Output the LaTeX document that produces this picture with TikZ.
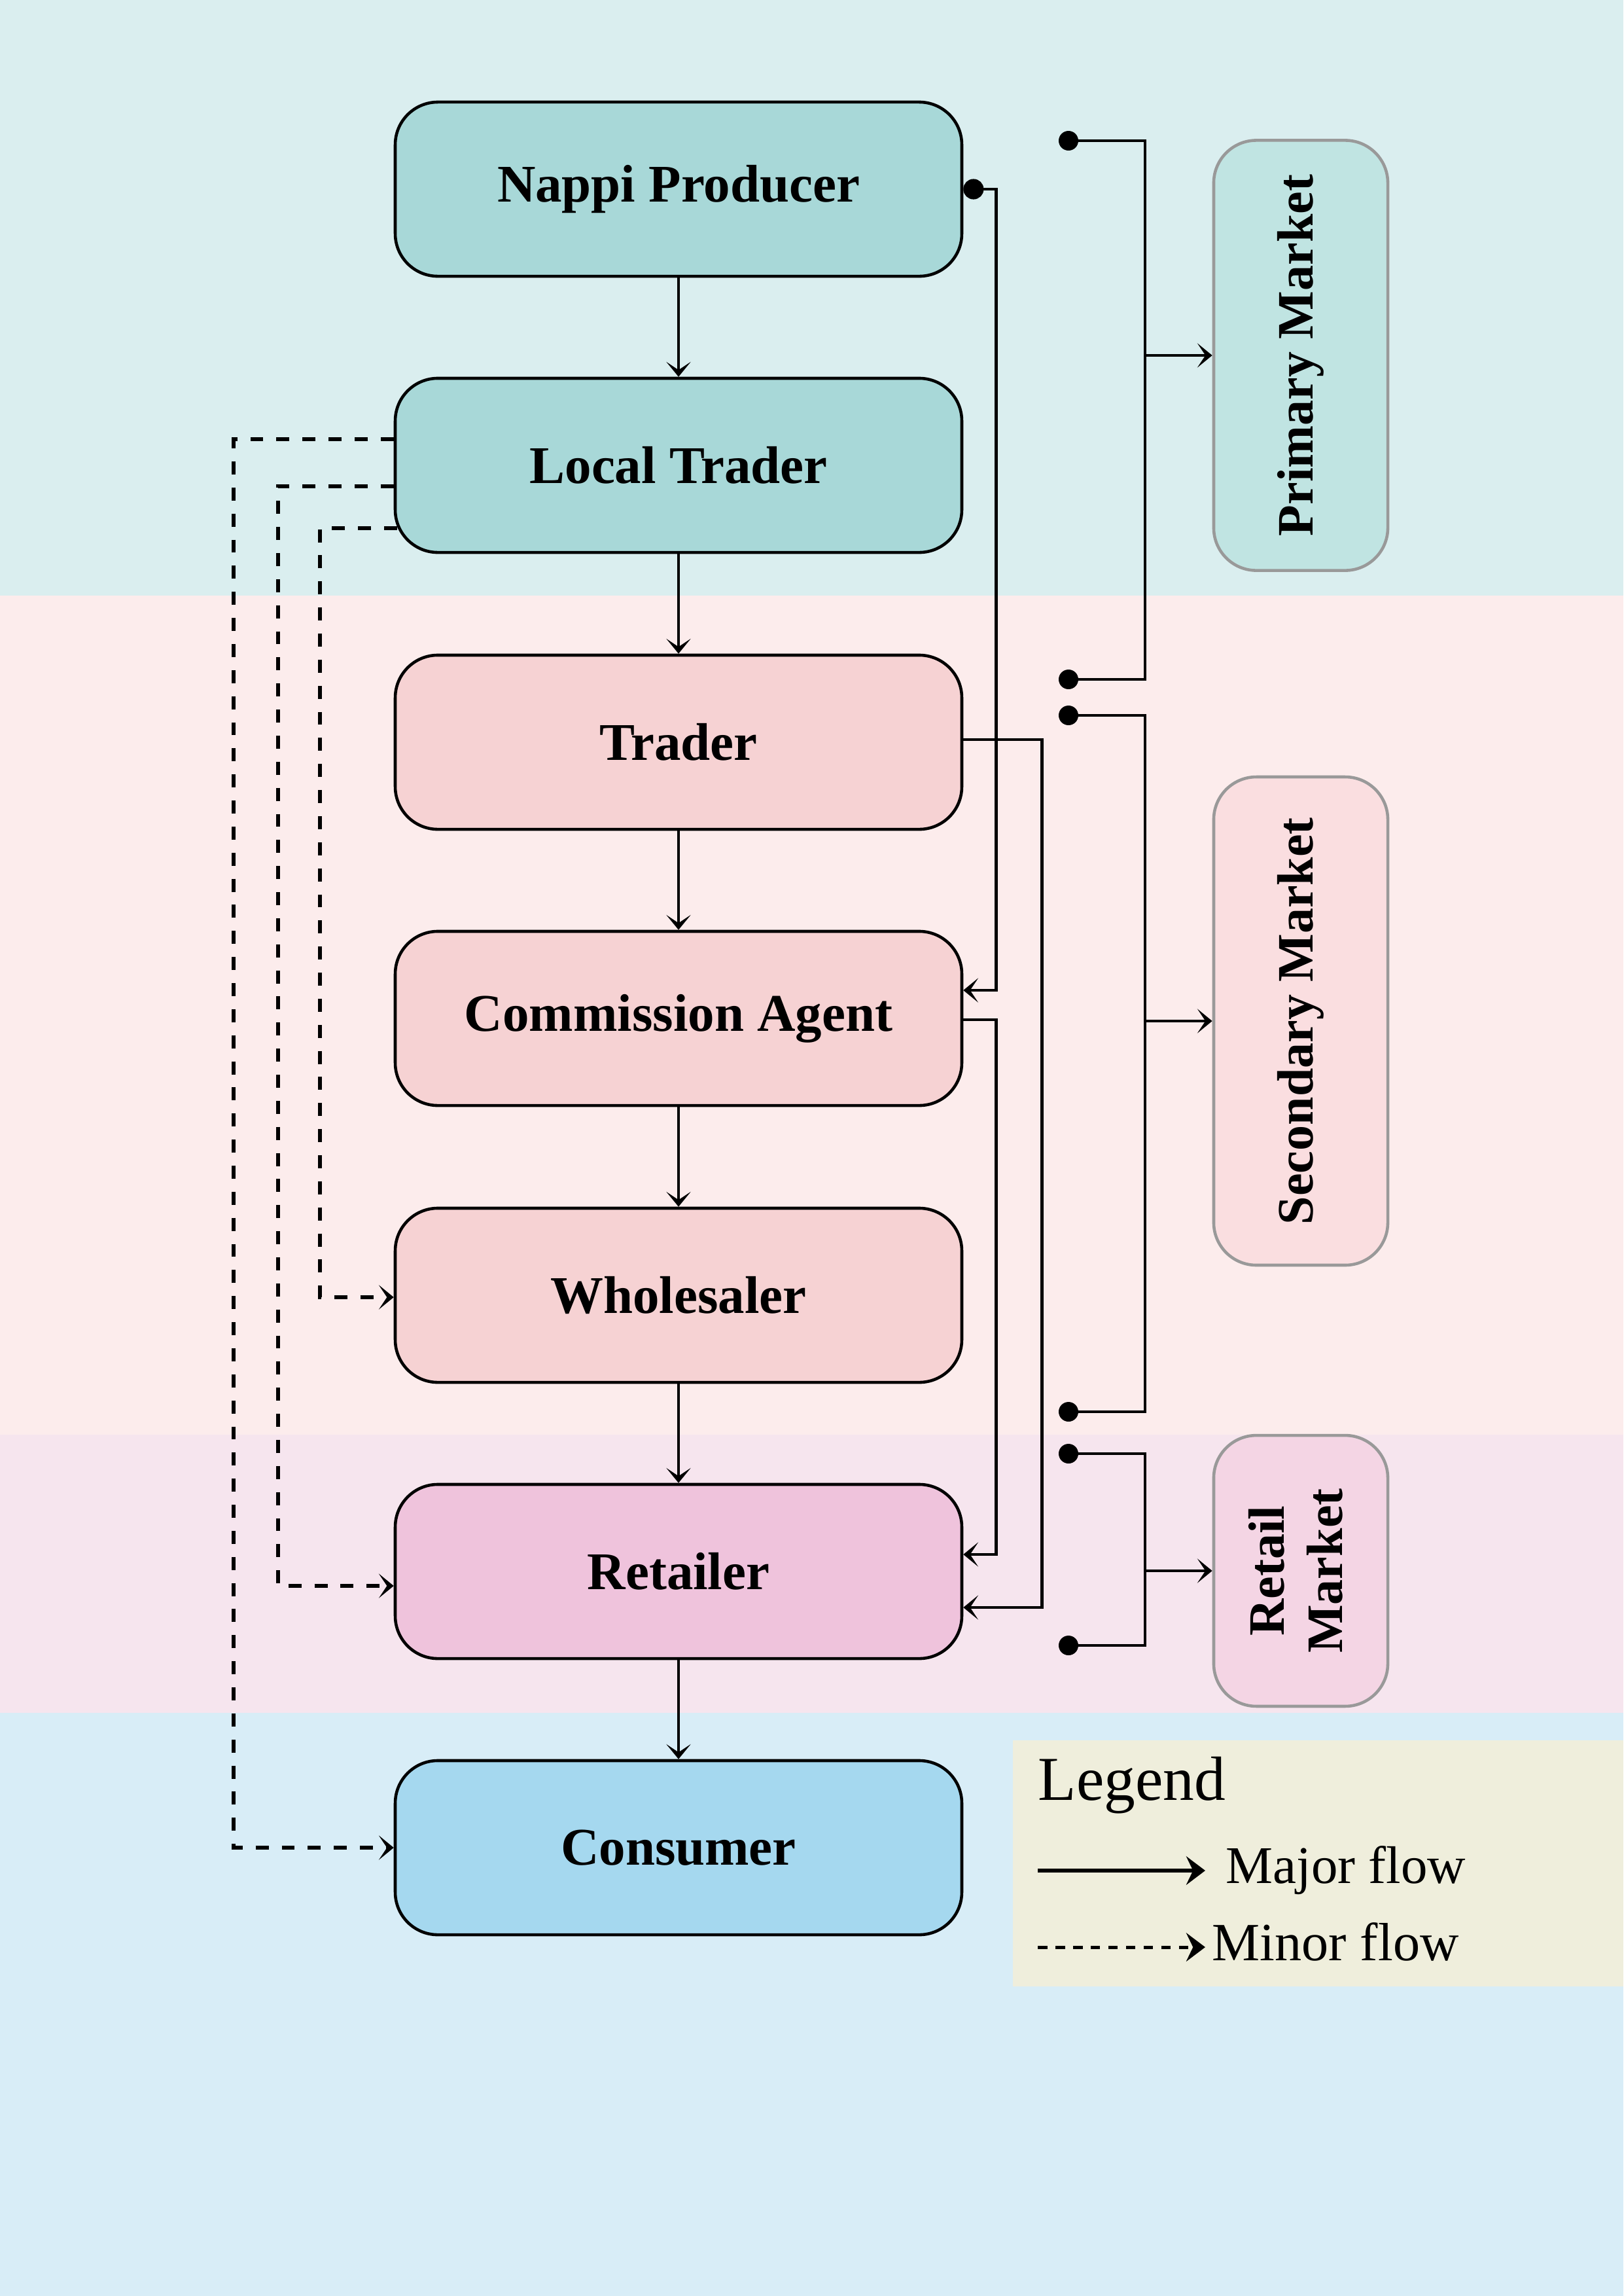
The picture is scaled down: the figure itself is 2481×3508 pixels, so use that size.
\documentclass[tikz,border=0pt]{standalone}
\usepackage{fontspec}
\usepackage{graphicx}
\setmainfont{Liberation Serif}
\usetikzlibrary{arrows.meta,calc}
\definecolor{bandA}{RGB}{218,238,239}
\definecolor{bandB}{RGB}{252,236,236}
\definecolor{bandC}{RGB}{246,229,238}
\definecolor{bandD}{RGB}{216,237,247}
\definecolor{fillTeal}{RGB}{168,216,216}
\definecolor{fillPink}{RGB}{246,210,211}
\definecolor{fillMag}{RGB}{239,195,220}
\definecolor{fillBlue}{RGB}{165,216,239}
\definecolor{mkPrim}{RGB}{192,228,226}
\definecolor{mkSec}{RGB}{250,222,224}
\definecolor{mkRet}{RGB}{244,213,228}
\definecolor{legbg}{RGB}{239,238,220}
\definecolor{mkborder}{RGB}{153,153,153}
\begin{document}
\begin{tikzpicture}[x=0.24089pt,y=-0.24089pt,
  stagebox/.style={draw=black, line width=1.1pt, rounded corners=15.7pt,
    minimum width=208.6pt, minimum height=64.1pt, inner sep=0pt,
    font=\fontsize{19.5}{23}\selectfont\bfseries},
  marketbox/.style={draw=mkborder, line width=1.1pt, rounded corners=15.7pt,
    minimum width=64.1pt, inner sep=0pt,
    font=\fontsize{18.8}{22.5}\selectfont\bfseries},
  major/.style={line width=1.1pt, -{Stealth[length=5.5pt,width=9pt,inset=3pt]}},
  minor/.style={line width=1.5pt, dash pattern=on 4.8pt off 4.8pt, -{Stealth[length=5.5pt,width=9pt,inset=3pt]}},
  legtip/.style={-{Stealth[length=7pt,width=10.5pt,inset=2.5pt]}},
  bracket/.style={line width=1.1pt},
  dotstyle/.style={fill=black}
]
% background bands
\fill[bandA] (0,0) rectangle (2481,910);
\fill[bandB] (0,910) rectangle (2481,2192);
\fill[bandC] (0,2192) rectangle (2481,2617);
\fill[bandD] (0,2617) rectangle (2481,3508);
\useasboundingbox (0,0) rectangle (2481,3508);

% stage nodes
\node[stagebox, fill=fillTeal] (nappi) at (1037,289) {Nappi Producer};
\node[stagebox, fill=fillTeal] (local) at (1037,711) {Local Trader};
\node[stagebox, fill=fillPink] (trader) at (1037,1134) {Trader};
\node[stagebox, fill=fillPink] (comm) at (1037,1556) {Commission Agent};
\node[stagebox, fill=fillPink] (whole) at (1037,1979) {Wholesaler};
\node[stagebox, fill=fillMag] (retail) at (1037,2401) {Retailer};
\node[stagebox, fill=fillBlue] (consumer) at (1037,2823) {Consumer};

% market nodes
\node[marketbox, fill=mkPrim, minimum height=158.3pt] (primary) at (1988,543) {\rotatebox{90}{Primary Market}};
\node[marketbox, fill=mkSec, minimum height=179.7pt] (secondary) at (1988,1560) {\rotatebox{90}{Secondary Market}};
\node[marketbox, fill=mkRet, minimum height=99.7pt] (retmarket) at (1988,2400) {\rotatebox{90}{\begin{tabular}{@{}c@{}}Retail\\[-1pt]Market\end{tabular}}};

% main vertical flow
\draw[major] (nappi) -- (local);
\draw[major] (local) -- (trader);
\draw[major] (trader) -- (comm);
\draw[major] (comm) -- (whole);
\draw[major] (whole) -- (retail);
\draw[major] (retail) -- (consumer);

% right-side bypass flows
\draw[line width=1.1pt, {Circle[length=7.5pt]}-{Stealth[length=5.5pt,width=9pt,inset=3pt]}]
  (nappi.east) -- ++(50,0) |- ($(comm.east)+(0,-43)$);
\draw[major] ($(comm.east)+(0,2)$) -- ++(50,0) |- ($(retail.east)+(0,-26)$);
\draw[major] ($(trader.east)+(0,-4)$) -- ++(120,0) |- ($(retail.east)+(0,55)$);

% left-side minor flows
\draw[minor] ($(local.west)+(0,-40)$) -- ++(-245,0) |- (consumer.west);
\draw[minor] ($(local.west)+(0,32)$) -- ++(-177,0) |- ($(retail.west)+(0,22)$);
\draw[minor] ($(local.west)+(5,96)$) -- ++(-118,0) |- ($(whole.west)+(0,3)$);

% brackets
\coordinate (b1) at (1633,215);
\coordinate (b2) at (1633,1038);
\coordinate (b3) at (1633,1093);
\coordinate (b4) at (1633,2157);
\coordinate (b5) at (1633,2221);
\coordinate (b6) at (1633,2514);
\coordinate (vx) at (1750,0);
\draw[bracket] (b1) -- ++(117,0) |- (b2);
\draw[bracket] (b3) -- ++(117,0) |- (b4);
\draw[bracket] (b5) -- ++(117,0) |- (b6);
\foreach \p in {b1,b2,b3,b4,b5,b6} \fill[dotstyle] (\p) circle[radius=15];
\draw[major] (vx |- primary.west) -- (primary.west);
\draw[major] (vx |- secondary.west) -- (secondary.west);
\draw[major] (vx |- retmarket.west) -- (retmarket.west);

% legend
\node[fill=legbg, minimum width=224.8pt, minimum height=90.6pt, inner sep=0pt] (legend) at (2014.5,2847) {};
\node[anchor=base west, inner sep=0pt, font=\fontsize{23}{27}\selectfont] (legtitle) at (1586,2750) {Legend};
\coordinate (l1a) at (1586,2858);
\coordinate (l1b) at (1842,2858);
\coordinate (l2a) at (1586,2975);
\coordinate (l2b) at (1842,2975);
\draw[line width=1.3pt, legtip] (l1a) -- (l1b);
\draw[line width=1.2pt, dash pattern=on 3.5pt off 3pt, legtip] (l2a) -- (l2b);
\node[anchor=base west, inner sep=0pt, font=\fontsize{19.5}{23}\selectfont] (majtxt) at (1873,2877) {Major flow};
\node[anchor=base west, inner sep=0pt, font=\fontsize{19.8}{23}\selectfont] (mintxt) at (1852,2995) {Minor flow};
\end{tikzpicture}
\end{document}
